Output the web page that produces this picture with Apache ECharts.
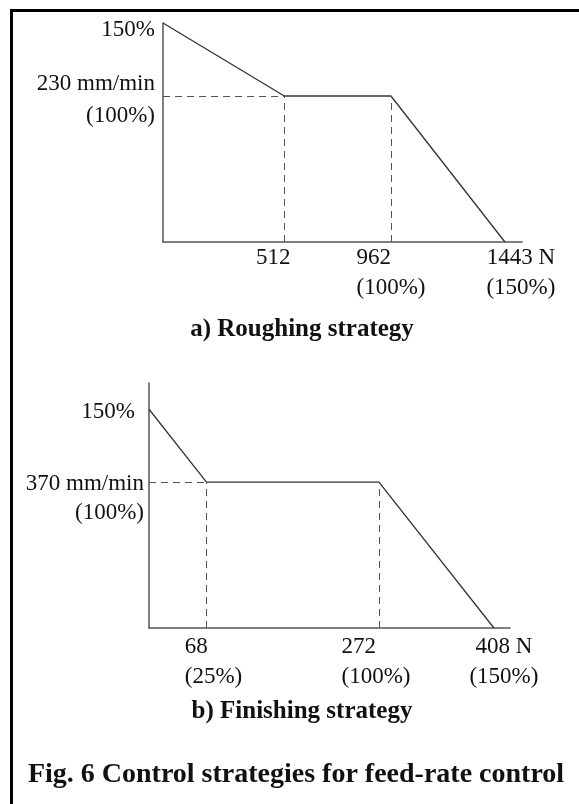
<!DOCTYPE html>
<html>
<head>
<meta charset="utf-8">
<script src="https://cdn.jsdelivr.net/npm/echarts@6.0.0/dist/echarts.min.js"></script>
<style>
  html, body { margin: 0; padding: 0; background: #fff; }
  #main { width: 579px; height: 804px; }
</style>
</head>
<body>
<div id="main"></div>
<script>
// a) roughing strategy : force (N) -> feed rate (% of 230 mm/min)
var roughForce = [0, 512, 962, 1443];
var roughFeed = [150, 100, 100, 0];
var roughXTicks = [512, 962, 1443];
var roughXText = [["512"], ["962", "(100%)"], ["1443 N", "(150%)"]];
var roughYTicks = [150, 100];
var roughYText = [["150%"], ["230 mm/min", "(100%)"]];

// b) finishing strategy : force (N) -> feed rate (% of 370 mm/min)
var finForce = [0, 68, 272, 408];
var finFeed = [150, 100, 100, 0];
var finXTicks = [68, 272, 408];
var finXText = [["68", "(25%)"], ["272", "(100%)"], ["408 N", "(150%)"]];
var finYTicks = [150, 100];
var finYText = [["150%"], ["370 mm/min", "(100%)"]];

var titles = ["a) Roughing strategy", "b) Finishing strategy", "Fig. 6 Control strategies for feed-rate control"];

var FONT = '"Liberation Serif", "Times New Roman", serif';
var INK = "#111";

function pairs(xs, ys) {
  return xs.map(function (x, i) { return [x, ys[i]]; });
}

// build "{style|text}" lines for one tick
function labeller(ticks, texts, styles) {
  return function (val) {
    var i = ticks.indexOf(val);
    if (i < 0) return "";
    return texts[i].map(function (t, j) {
      return "{" + styles[i][j] + "|" + t + "}";
    }).join("\n");
  };
}

function rs(lh, extra) {
  var o = { fontFamily: FONT, fontSize: 23, color: INK, lineHeight: lh };
  for (var k in extra) o[k] = extra[k];
  return o;
}

function guides(xs, ys) {
  return [
    [{ coord: [0, ys[1]] }, { coord: [xs[1], ys[1]] }],
    [{ coord: [xs[1], 0] }, { coord: [xs[1], ys[1]] }],
    [{ coord: [xs[2], 0] }, { coord: [xs[2], ys[2]] }]
  ];
}

var axisLineStyle = { color: "#555", width: 1.5 };

var chart = echarts.init(document.getElementById("main"));

var option = {
  animation: false,
  backgroundColor: "#fff",
  grid: [
    { left: 163, top: 23, width: 359, height: 219, outerBoundsMode: "none" },
    { left: 149, top: 383, width: 361, height: 245, outerBoundsMode: "none" }
  ],
  xAxis: [
    {
      gridIndex: 0, type: "value", min: 0, max: 1515,
      splitLine: { show: false }, axisTick: { show: false },
      axisLine: { lineStyle: axisLineStyle },
      axisLabel: {
        customValues: roughXTicks, margin: 1,
        formatter: labeller(roughXTicks, roughXText, [["a"], ["l", "c"], ["r", "r"]]),
        rich: {
          a: rs(30, { padding: [0, 22, 0, 0] }),
          l: rs(30, { align: "left" }),
          c: rs(30, {}),
          r: rs(30, { padding: [0, 0, 0, 32] })
        }
      }
    },
    {
      gridIndex: 1, type: "value", min: 0, max: 427,
      splitLine: { show: false }, axisTick: { show: false },
      axisLine: { lineStyle: axisLineStyle },
      axisLabel: {
        customValues: finXTicks, margin: 4,
        formatter: labeller(finXTicks, finXText, [["l8", "p8"], ["l", "m"], ["r", "r"]]),
        rich: {
          l8: rs(30, { align: "left", padding: [0, 0, 0, 14] }),
          p8: rs(30, { padding: [0, 0, 0, 14] }),
          l: rs(30, { align: "left" }),
          m: rs(30, { padding: [0, 6, 0, 0] }),
          r: rs(30, { padding: [0, 0, 0, 20] })
        }
      }
    }
  ],
  yAxis: [
    {
      gridIndex: 0, type: "value", min: 0, max: 150,
      splitLine: { show: false }, axisTick: { show: false },
      axisLine: { lineStyle: axisLineStyle },
      axisLabel: {
        customValues: roughYTicks, margin: 8,
        formatter: labeller(roughYTicks, roughYText, [["t"], ["m", "m"]]),
        rich: {
          t: rs(30, { padding: [14, 0, 0, 0] }),
          m: rs(32, { padding: [8, 0, 0, 0] })
        }
      }
    },
    {
      gridIndex: 1, type: "value", min: 0, max: 168,
      splitLine: { show: false }, axisTick: { show: false },
      axisLine: { lineStyle: axisLineStyle },
      axisLabel: {
        customValues: finYTicks, margin: 5,
        formatter: labeller(finYTicks, finYText, [["t"], ["m", "m"]]),
        rich: {
          t: rs(30, { padding: [6, 9, 0, 0] }),
          m: rs(29, { padding: [32, 0, 0, 0] })
        }
      }
    }
  ],
  series: [
    {
      type: "line", xAxisIndex: 0, yAxisIndex: 0,
      data: pairs(roughForce, roughFeed),
      symbol: "none",
      lineStyle: { color: "#333", width: 1.3 },
      markLine: {
        silent: true, symbol: "none", label: { show: false },
        lineStyle: { color: "#555", width: 1, type: [7, 5] },
        data: guides(roughForce, roughFeed)
      }
    },
    {
      type: "line", xAxisIndex: 1, yAxisIndex: 1,
      data: pairs(finForce, finFeed),
      symbol: "none",
      lineStyle: { color: "#333", width: 1.3 },
      markLine: {
        silent: true, symbol: "none", label: { show: false },
        lineStyle: { color: "#555", width: 1, type: [7, 5] },
        data: guides(finForce, finFeed)
      }
    }
  ],
  graphic: [
    // frame of the scanned figure (top and left edges)
    { type: "rect", shape: { x: 10, y: 9, width: 569, height: 3 }, style: { fill: "#000" } },
    { type: "rect", shape: { x: 10, y: 9, width: 3, height: 795 }, style: { fill: "#000" } },
    {
      type: "text", x: 302, y: 330,
      style: { text: titles[0], font: 'bold 25px ' + FONT, fill: INK, align: "center", verticalAlign: "middle" }
    },
    {
      type: "text", x: 302, y: 712,
      style: { text: titles[1], font: 'bold 25px ' + FONT, fill: INK, align: "center", verticalAlign: "middle" }
    },
    {
      type: "text", x: 296, y: 775,
      style: { text: titles[2], font: 'bold 28px ' + FONT, fill: INK, align: "center", verticalAlign: "middle" }
    }
  ]
};

chart.setOption(option);
</script>
</body>
</html>
